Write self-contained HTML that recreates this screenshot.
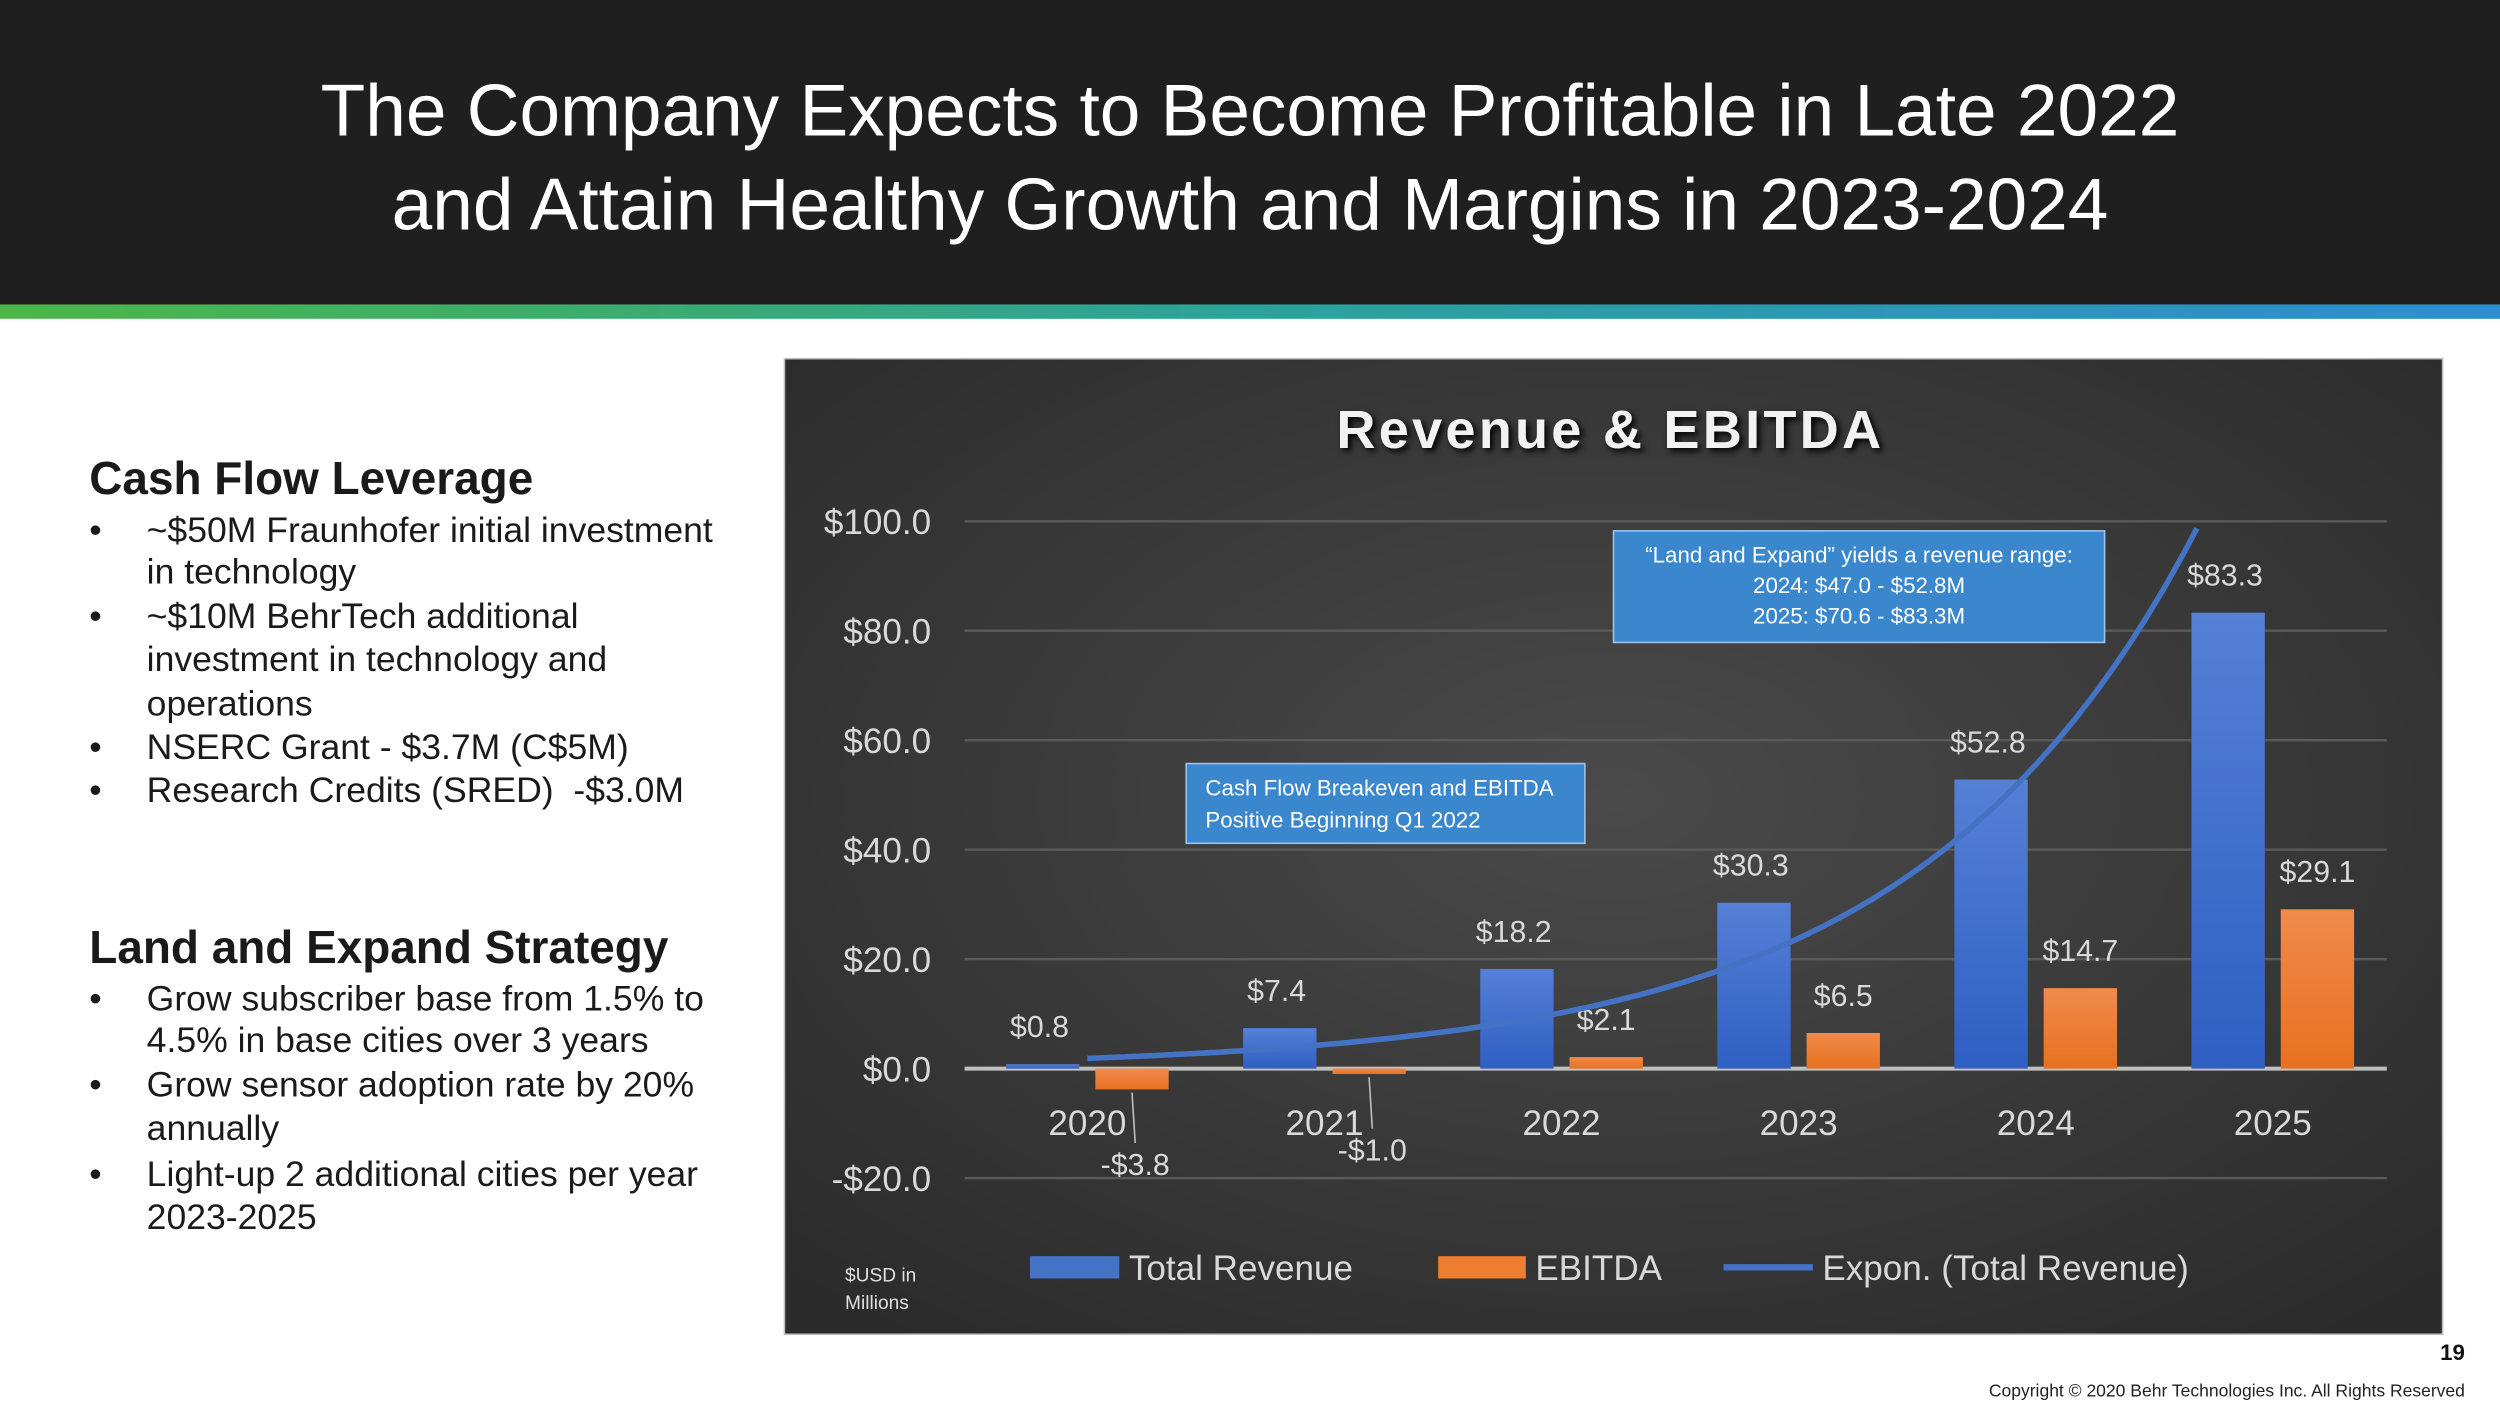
<!DOCTYPE html>
<html><head><meta charset="utf-8"><style>
html,body{margin:0;padding:0;background:#fff;}
svg{display:block;font-family:"Liberation Sans",sans-serif;}
</style></head><body>
<svg id="page" width="2500" height="1406" viewBox="0 0 1568 882" preserveAspectRatio="none" xmlns="http://www.w3.org/2000/svg">
<defs>
<linearGradient id="hb" x1="0" x2="1" y1="0" y2="0"><stop offset="0" stop-color="#4cb648"/><stop offset="0.5" stop-color="#2aa39a"/><stop offset="1" stop-color="#2b8ed0"/></linearGradient>
<radialGradient id="pbg" cx="0.5" cy="0.45" r="0.7"><stop offset="0" stop-color="#4a4a4a"/><stop offset="1" stop-color="#2b2b2b"/></radialGradient>
<linearGradient id="gb" x1="0" x2="0" y1="0" y2="1"><stop offset="0" stop-color="#5580d6"/><stop offset="1" stop-color="#2f5fc4"/></linearGradient>
<linearGradient id="go" x1="0" x2="0" y1="0" y2="1"><stop offset="0" stop-color="#f08a4c"/><stop offset="1" stop-color="#e8711f"/></linearGradient>
</defs>
<rect x="0" y="0" width="1568" height="191" fill="#1f1f1f"/>
<rect x="0" y="191" width="1568" height="9" fill="url(#hb)"/>
<text x="784" y="85" text-anchor="middle" font-size="45.8" fill="#fff">The Company Expects to Become Profitable in Late 2022</text>
<text x="784" y="144" text-anchor="middle" font-size="45.8" fill="#fff">and Attain Healthy Growth and Margins in 2023-2024</text>

<g fill="#1a1a1a" font-size="22.3">
<text x="56" y="310" font-size="28.8" font-weight="bold">Cash Flow Leverage</text>
<text x="56" y="340">•</text><text x="92" y="340">~$50M Fraunhofer initial investment</text>
<text x="92" y="366">in technology</text>
<text x="56" y="394">•</text><text x="92" y="394">~$10M BehrTech additional</text>
<text x="92" y="421">investment in technology and</text>
<text x="92" y="449">operations</text>
<text x="56" y="476">•</text><text x="92" y="476">NSERC Grant - $3.7M (C$5M)</text>
<text x="56" y="503">•</text><text x="92" y="503" xml:space="preserve">Research Credits (SRED)  -$3.0M</text>
<text x="56" y="604" font-size="28.8" font-weight="bold">Land and Expand Strategy</text>
<text x="56" y="634">•</text><text x="92" y="634">Grow subscriber base from 1.5% to</text>
<text x="92" y="660">4.5% in base cities over 3 years</text>
<text x="56" y="688">•</text><text x="92" y="688">Grow sensor adoption rate by 20%</text>
<text x="92" y="715">annually</text>
<text x="56" y="744">•</text><text x="92" y="744">Light-up 2 additional cities per year</text>
<text x="92" y="771">2023-2025</text>
</g>

<rect x="492" y="225" width="1040" height="612" fill="url(#pbg)" stroke="#bfbfbf" stroke-width="1"/>
<text x="1010" y="281" text-anchor="middle" font-size="34" font-weight="bold" fill="#f2f2f2" letter-spacing="2" style="filter:drop-shadow(2px 2px 2px #000)">Revenue &amp; EBITDA</text>
<g id="plot"></g>
<rect x="1012" y="333" width="308" height="70" fill="#3a87cd" stroke="#9cc3e8"/>
<g font-size="14" fill="#fff" text-anchor="middle">
<text x="1166" y="353">“Land and Expand” yields a revenue range:</text>
<text x="1166" y="372">2024: $47.0 - $52.8M</text>
<text x="1166" y="391">2025: $70.6 - $83.3M</text>
</g>
<rect x="744" y="479" width="250" height="50" fill="#3a87cd" stroke="#9cc3e8"/>
<g font-size="14" fill="#fff">
<text x="756" y="499">Cash Flow Breakeven and EBITDA</text>
<text x="756" y="519">Positive Beginning Q1 2022</text>
</g>
<g>
<rect x="646" y="788" width="56" height="14" fill="#4472c4"/>
<text x="708" y="803" font-size="22" fill="#d9d9d9">Total Revenue</text>
<rect x="902" y="788" width="55" height="14" fill="#ed7d31"/>
<text x="963" y="803" font-size="22" fill="#d9d9d9">EBITDA</text>
<line x1="1081" y1="795" x2="1137" y2="795" stroke="#4472c4" stroke-width="4"/>
<text x="1143" y="803" font-size="22" fill="#d9d9d9">Expon. (Total Revenue)</text>
</g>
<text x="530" y="804" font-size="12" fill="#e0e0e0">$USD in</text>
<text x="530" y="821" font-size="12" fill="#e0e0e0">Millions</text>
<text x="1546" y="853" text-anchor="end" font-size="14" font-weight="bold" fill="#111">19</text>
<text x="1546" y="876" text-anchor="end" font-size="11" fill="#222">Copyright © 2020 Behr Technologies Inc. All Rights Reserved</text>
</svg>
<script>
const categories = ["2020","2021","2022","2023","2024","2025"];
const revenue = [0.8, 7.4, 18.2, 30.3, 52.8, 83.3];
const ebitda = [-3.8, -1.0, 2.1, 6.5, 14.7, 29.1];
const yTicks = [-20, 0, 20, 40, 60, 80, 100];
const yTickLabels = ["-$20.0","$0.0","$20.0","$40.0","$60.0","$80.0","$100.0"];

const NS = "http://www.w3.org/2000/svg";
const plot = document.getElementById('plot');
const X0 = 605, X1 = 1497, yMin = -20, yMax = 100, PY0 = 739, PY1 = 327;
const y = v => PY0 - (v - yMin) / (yMax - yMin) * (PY0 - PY1);
const step = 148.7;
const xc = i => 682 + i * step;
function mk(tag, attrs, text) {
  const e = document.createElementNS(NS, tag);
  for (const k in attrs) e.setAttribute(k, attrs[k]);
  if (text !== undefined) e.textContent = text;
  plot.appendChild(e);
  return e;
}
yTicks.forEach((t, i) => {
  const g = mk('line', {x1: X0, x2: X1, y1: y(t), y2: y(t), stroke: t === 0 ? '#bfbfbf' : '#5a5a5a', 'stroke-width': t === 0 ? 2.5 : 1.5});
  
  
  const l = mk('text', {x: 584, y: y(t) + 8, 'text-anchor': 'end', 'font-size': 22, fill: '#d9d9d9'}, yTickLabels[i]);
  
  
});
const BW = 46;
categories.forEach((c, i) => {
  const cx = xc(i);
  const rv = revenue[i], ev = ebitda[i];
  const rb = mk('rect', {x: cx - 28 - BW/2, y: Math.min(y(rv), y(0)), width: BW, height: Math.abs(y(rv) - y(0)), fill: 'url(#gb)'});
  
  
  const eb = mk('rect', {x: cx + 28 - BW/2, y: Math.min(y(ev), y(0)), width: BW, height: Math.abs(y(ev) - y(0)), fill: 'url(#go)'});
  
  
  const rl = mk('text', {x: cx - 30, y: y(rv) - 17, 'text-anchor': 'middle', 'font-size': 19, fill: '#d9d9d9'}, '$' + rv.toFixed(1));
  
  
  let ex = cx + 28, ey = y(Math.max(ev, 0)) - 17;
  if (ev < 0) {
    ex = cx + 30;
    ey = i === 0 ? 737 : 728;
    const ld = mk('line', {x1: cx + 28, y1: y(ev) + 2, x2: cx + 30, y2: ey - 20, stroke: '#bfbfbf', 'stroke-width': 1});
    
    
  }
  const el = mk('text', {x: ex, y: ey, 'text-anchor': 'middle', 'font-size': 19, fill: '#d9d9d9'}, (ev < 0 ? '-$' : '$') + Math.abs(ev).toFixed(1));
  
  
  const cl = mk('text', {x: cx, y: 712, 'text-anchor': 'middle', 'font-size': 22, fill: '#d9d9d9'}, c);
  
  
});
// exponential trendline fitted to revenue
const n = revenue.length;
const lx = revenue.map((_, i) => i), ly = revenue.map(v => Math.log(v));
const mx = lx.reduce((a,b)=>a+b)/n, my = ly.reduce((a,b)=>a+b)/n;
let sxy = 0, sxx = 0;
for (let i = 0; i < n; i++) { sxy += (lx[i]-mx)*(ly[i]-my); sxx += (lx[i]-mx)**2; }
const b = sxy / sxx, a = my - b * mx;
let pts = [];
for (let t = 0; t <= n - 1; t += 0.02) {
  const v = Math.exp(a + b * t);
  if (v > yMax) break;
  pts.push((xc(t)).toFixed(1) + ',' + y(v).toFixed(1));
}
const tl = mk('polyline', {points: pts.join(' '), fill: 'none', stroke: '#4472c4', 'stroke-width': 3.5});


</script>
</body></html>
